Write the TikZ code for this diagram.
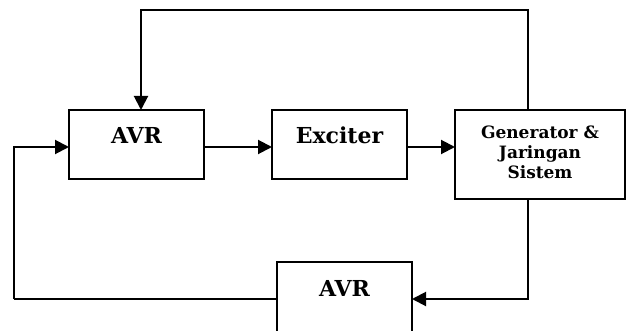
\documentclass[tikz,border=0pt]{standalone}
\usepackage{fontspec}
\setmainfont{DejaVu Serif}
\usetikzlibrary{arrows.meta}

\begin{document}
\begin{tikzpicture}[x=1pt,y=-1pt,
	blok/.style={draw,line width=1.1pt,inner sep=0,outer sep=0,minimum width=135pt,minimum height=69pt},
	judul/.style={font=\bfseries\fontsize{22}{24}\selectfont,inner sep=0},
	kecil/.style={font=\bfseries\fontsize{17}{20}\selectfont,inner sep=0,align=center},
	panah/.style={line width=2pt,-{Triangle[length=14pt,width=14pt]}}]
	\clip (0,0) rectangle (626,331);
	% kotak-kotak
	\node[blok] (avr1) at (136.5,144.5) {};
	\node[blok] (exc) at (339.5,144.5) {};
	\node[blok,minimum width=170pt,minimum height=89pt] (gen) at (540,154.5) {};
	\node[blok,minimum height=84pt] (avr2) at (344.5,304) {};
	\node[judul] (tavr1) at ([yshift=-25pt]avr1.north) {AVR};
	\node[judul] (texc) at ([yshift=-25pt]exc.north) {Exciter};
	\node[kecil] (tgen) at ([yshift=-42pt]gen.north) {Generator \&\\Jaringan\\Sistem};
	\node[judul] (tavr2) at ([yshift=-26pt]avr2.north) {AVR};
	% titik belok
	\coordinate (atas1) at (141,10);
	\coordinate (atas2) at (528,10);
	\coordinate (kiri1) at (14,147);
	\coordinate (kiri2) at (14,299);
	\coordinate (kanan) at (528,299);
	% garis
	\draw[panah] (avr1.east |- kiri1) -- (exc.west |- kiri1);
	\draw[panah] (exc.east |- kiri1) -- (gen.west |- kiri1);
	\draw[panah] (gen.north -| atas2) -- (atas2) -- (atas1) -- (avr1.north -| atas1);
	\draw[panah] (gen.south -| kanan) -- (kanan) -- (avr2.east |- kanan);
	\draw[line width=1.3pt] (avr2.west |- kiri2) -- (kiri2);
	\draw[panah] (kiri2) -- (kiri1) -- (avr1.west |- kiri1);
\end{tikzpicture}
\end{document}
